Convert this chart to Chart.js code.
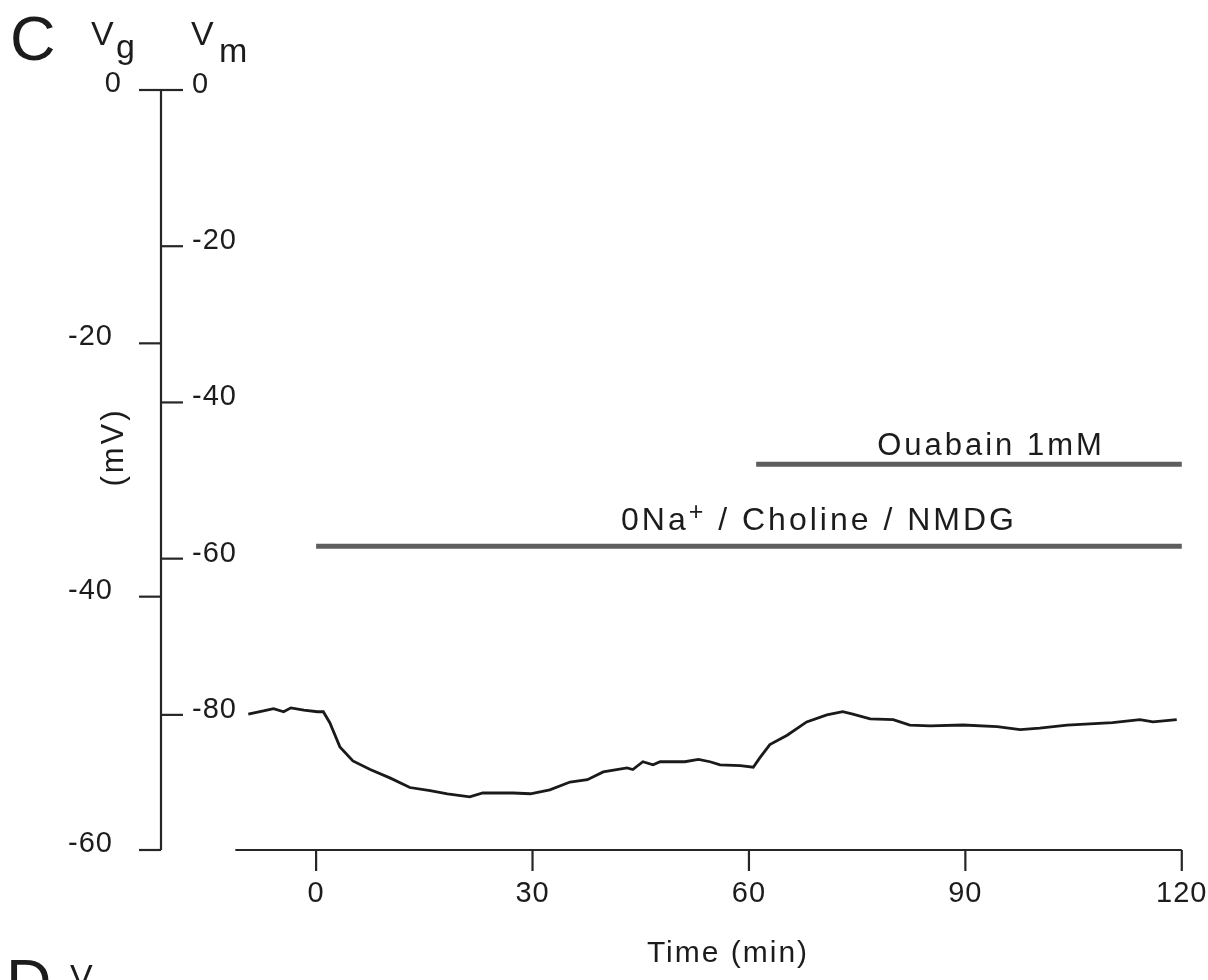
<!DOCTYPE html>
<html>
<head>
<meta charset="utf-8">
<script src="https://cdn.jsdelivr.net/npm/chart.js@4.4.1/dist/chart.umd.min.js"></script>
<style>
body { margin: 0; background: #fff; }
</style>
</head>
<body>
<canvas id="grafico" width="1208" height="980"></canvas>
<script>
// trace: time (min) and Vm (mV)
var time = [-9.4, -7.3, -5.9, -4.5, -3.5, -1.7, 0.2, 1.0, 1.9, 3.3, 5.1, 7.5, 10.3, 13.0, 15.8, 18.2, 21.3, 23.1, 27.3, 29.7,
	32.4, 35.2, 37.6, 39.8, 43.1, 43.9, 45.3, 46.7, 47.7, 51.1, 53.0, 54.6, 56.0, 58.8, 60.6, 61.5, 62.9, 65.3, 68.0,
	70.8, 73.0, 74.4, 76.8, 80.0, 82.3, 85.1, 89.7, 94.4, 97.6, 100.3, 104.1, 110.4, 114.2, 116.0, 119.3];
var vm = [-79.9, -79.5, -79.2, -79.6, -79.1, -79.4, -79.6, -79.6, -81.0, -84.1, -85.9, -87.0, -88.1, -89.3, -89.7, -90.1, -90.5, -90.0, -90.0, -90.1,
	-89.6, -88.6, -88.3, -87.3, -86.8, -87.0, -86.0, -86.4, -86.0, -86.0, -85.7, -86.0, -86.4, -86.5, -86.7, -85.5, -83.8, -82.6, -80.9,
	-80.0, -79.6, -79.9, -80.5, -80.6, -81.3, -81.4, -81.3, -81.5, -81.9, -81.7, -81.3, -81.0, -80.6, -80.9, -80.6];

// tick labels
var timeTicks = [0, 30, 60, 90, 120];
var vmTicks = [0, -20, -40, -60, -80];
var vgTicks = [0, -20, -40, -60];

// solution bars: start, end (min), level (Vm)
var naBar = [0, 120, -58.4];
var ouabainBar = [61, 120, -47.9];

var font = '"Liberation Sans", Arial, Helvetica, sans-serif';

function text(ctx, s, x, y, size, align, spacing) {
	ctx.font = size + 'px ' + font;
	ctx.textAlign = align;
	ctx.letterSpacing = (spacing || 0) + 'px';
	ctx.fillText(s, x, y);
}

function bar(b) {
	return [{ x: b[0], y: b[2] }, { x: b[1], y: b[2] }];
}

// axes and labels drawn by hand, positions from the chart scales
var axes = {
	id: 'axes',
	afterDraw: function (chart) {
		var ctx = chart.ctx;
		var sx = chart.scales.x;
		var sm = chart.scales.vm;
		var sg = chart.scales.vg;
		var x0 = sx.left;
		var yTop = sg.getPixelForValue(0);
		var yBot = sg.getPixelForValue(-60);

		ctx.save();
		ctx.strokeStyle = '#262626';
		ctx.fillStyle = '#1c1c1c';
		ctx.lineWidth = 2.2;
		ctx.textBaseline = 'middle';

		// vertical axis
		ctx.beginPath();
		ctx.moveTo(x0, yTop);
		ctx.lineTo(x0, yBot);
		ctx.stroke();

		// Vg ticks on the left
		vgTicks.forEach(function (v) {
			var y = sg.getPixelForValue(v);
			ctx.beginPath();
			ctx.moveTo(x0 - 22, y);
			ctx.lineTo(x0, y);
			ctx.stroke();
			text(ctx, String(v), v === 0 ? 122 : 113, y - 6, 29, 'right', 1);
		});

		// Vm ticks on the right
		vmTicks.forEach(function (v) {
			var y = sm.getPixelForValue(v);
			ctx.beginPath();
			ctx.moveTo(x0, y);
			ctx.lineTo(x0 + 22, y);
			ctx.stroke();
			text(ctx, String(v), x0 + 31, y - 5, 29, 'left', 1);
		});

		// time axis
		var xs = sx.getPixelForValue(-11.2);
		var xe = sx.getPixelForValue(120);
		ctx.beginPath();
		ctx.moveTo(xs, yBot);
		ctx.lineTo(xe, yBot);
		ctx.stroke();
		timeTicks.forEach(function (t) {
			var x = sx.getPixelForValue(t);
			ctx.beginPath();
			ctx.moveTo(x, yBot);
			ctx.lineTo(x, yBot + 21);
			ctx.stroke();
			text(ctx, String(t), x, yBot + 44, 29, 'center', 1);
		});

		ctx.textBaseline = 'alphabetic';
		text(ctx, 'Time (min)', 728, 962, 30, 'center', 2);

		// (mV)
		ctx.save();
		ctx.translate(123, 447);
		ctx.rotate(-Math.PI / 2);
		text(ctx, '(mV)', 0, 0, 31, 'center', 3);
		ctx.restore();

		// panel letters and axis names
		text(ctx, 'C', 10, 60, 63, 'left', 0);
		text(ctx, 'V', 91, 45, 34, 'left', 0);
		text(ctx, 'g', 116, 58, 34, 'left', 0);
		text(ctx, 'V', 191, 45, 34, 'left', 0);
		text(ctx, 'm', 219, 62, 34, 'left', 0);
		text(ctx, 'D', 6, 1003, 63, 'left', 0);
		text(ctx, 'V', 70, 988, 34, 'left', 0);

		// solution labels
		text(ctx, 'Ouabain 1mM', 991, 455, 31, 'center', 3);
		var yl = 530;
		var xl = 621;
		ctx.textAlign = 'left';
		ctx.font = '32px ' + font;
		ctx.letterSpacing = '3px';
		ctx.fillText('0Na', xl, yl);
		xl += ctx.measureText('0Na').width;
		ctx.font = '25px ' + font;
		ctx.fillText('+', xl, yl - 10);
		xl += ctx.measureText('+').width;
		ctx.font = '32px ' + font;
		ctx.fillText(' / Choline / NMDG', xl, yl);

		ctx.restore();
	}
};

var ctx = document.getElementById('grafico').getContext('2d');
var chart = new Chart(ctx, {
	type: 'line',
	data: {
		datasets: [{
			data: time.map(function (t, i) { return { x: t, y: vm[i] }; }),
			borderColor: '#1a1a1a',
			borderWidth: 2.8,
			pointRadius: 0,
			yAxisID: 'vm'
		}, {
			data: bar(naBar),
			borderColor: '#5e5e5e',
			borderWidth: 5,
			pointRadius: 0,
			yAxisID: 'vm'
		}, {
			data: bar(ouabainBar),
			borderColor: '#5e5e5e',
			borderWidth: 5,
			pointRadius: 0,
			yAxisID: 'vm'
		}]
	},
	options: {
		responsive: false,
		animation: false,
		devicePixelRatio: 1,
		layout: { padding: { left: 161, right: 19, top: 90, bottom: 130 } },
		plugins: { legend: { display: false }, tooltip: { enabled: false } },
		scales: {
			x: { type: 'linear', min: -21.5, max: 121, display: false },
			vm: { type: 'linear', axis: 'y', min: -97.3, max: 0, display: false },
			vg: { type: 'linear', axis: 'y', min: -60, max: 0, display: false }
		}
	},
	plugins: [axes]
});
</script>
</body>
</html>
